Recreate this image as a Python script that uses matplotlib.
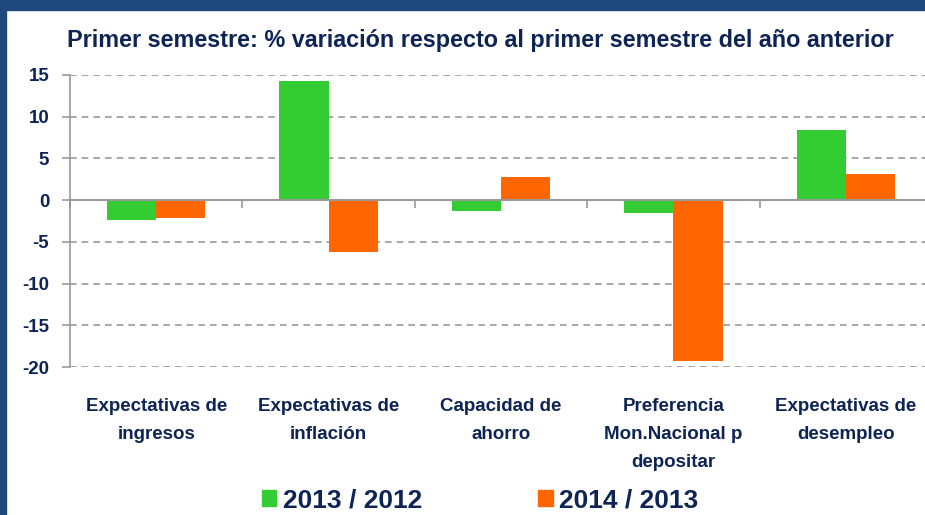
import matplotlib
matplotlib.use("Agg")
import matplotlib.pyplot as plt
import matplotlib.patches as mpatches
from matplotlib import font_manager
import numpy as np

# data
categories = [
    "Expectativas de\ningresos",
    "Expectativas de\ninflación",
    "Capacidad de\nahorro",
    "Preferencia\nMon.Nacional p\ndepositar",
    "Expectativas de\ndesempleo",
]
series_names = ["2013 / 2012", "2014 / 2013"]
vals_2013 = [-2.4, 14.3, -1.3, -1.5, 8.4]
vals_2014 = [-2.1, -6.2, 2.75, -19.3, 3.1]
yticks = [15, 10, 5, 0, -5, -10, -15, -20]

GREEN = "#33CC33"
ORANGE = "#FF6600"
NAVY = "#0E2454"
FRAME = "#1F497D"

names = {f.name for f in font_manager.fontManager.ttflist}
family = ["Liberation Sans Narrow", "DejaVu Sans"] if "Liberation Sans Narrow" in names else ["Liberation Sans", "DejaVu Sans"]
plt.rcParams["font.family"] = family

fig = plt.figure(figsize=(9.25, 5.15), dpi=100)
fig.patch.set_facecolor("white")

# dark blue frame on top and left
fig.add_artist(mpatches.Rectangle((0, 1 - 10 / 515), 1, 10 / 515, transform=fig.transFigure,
                                  color=FRAME, zorder=0))
fig.add_artist(mpatches.Rectangle((0, 0), 6 / 925, 1, transform=fig.transFigure,
                                  color=FRAME, zorder=0))

ax = fig.add_axes([70 / 925, 1 - 367 / 515, 862 / 925, (367 - 75) / 515])

x = np.arange(len(categories))
w = 0.285
ax.bar(x - w / 2, vals_2013, w, color=GREEN, zorder=3)
ax.bar(x + w / 2, vals_2014, w, color=ORANGE, zorder=3)

ax.set_xlim(-0.5, len(categories) - 0.5)
ax.set_ylim(-20, 15)
ax.set_yticks(yticks)
ax.set_yticklabels([str(v) for v in yticks], fontsize=13.5, fontweight="bold", color=NAVY)
ax.yaxis.grid(True, linestyle=(0, (4, 3)), color="#999999", linewidth=1.2, zorder=0)
ax.tick_params(axis="y", length=6, color="#999999", width=1.2, pad=9)

# x axis sits at zero with boundary ticks
ax.spines["bottom"].set_position(("data", 0))
ax.spines["bottom"].set_color("#999999")
ax.spines["bottom"].set_linewidth(1.5)
ax.spines["bottom"].set_zorder(4)
ax.spines["left"].set_color("#999999")
ax.spines["left"].set_linewidth(1.2)
ax.spines["top"].set_visible(False)
ax.spines["right"].set_visible(False)
ax.set_xticks(np.arange(len(categories) + 1) - 0.5)
ax.set_xticklabels([])
ax.tick_params(axis="x", length=6, color="#999999", width=1.2, direction="out")

for i, lab in enumerate(categories):
    ax.text(i, -0.105, lab, transform=ax.get_xaxis_transform(), ha="center", va="top",
            fontsize=13.5, fontweight="bold", color=NAVY, linespacing=1.85)

fig.text(480 / 925, 1 - 40 / 515,
         "Primer semestre: % variación respecto al primer semestre del año anterior",
         ha="center", va="center", fontsize=16.8, fontweight="bold", color=NAVY)

handles = [mpatches.Patch(color=GREEN, label=series_names[0]),
           mpatches.Patch(color=ORANGE, label=series_names[1])]
leg = fig.legend(handles=handles, loc="center", bbox_to_anchor=(480 / 925, 1 - 500 / 515),
                 ncol=2, frameon=False, handlelength=0.55, handleheight=0.55,
                 handletextpad=0.25, columnspacing=4.4,
                 prop={"size": 19, "weight": "bold"})
for t in leg.get_texts():
    t.set_color(NAVY)

fig.savefig("out.png", dpi=100)
